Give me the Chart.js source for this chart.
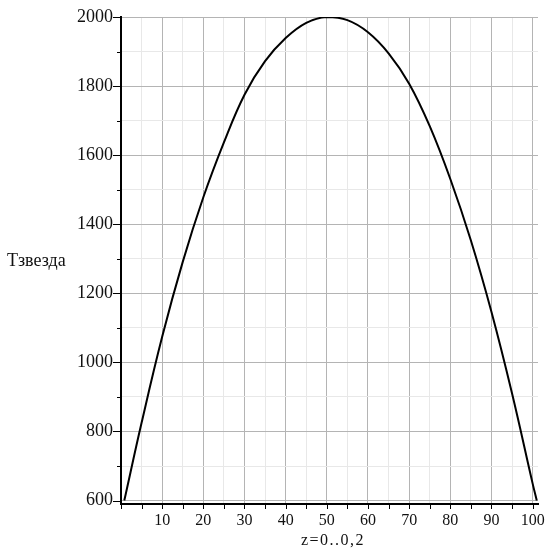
<!DOCTYPE html>
<html>
<head>
<meta charset="utf-8">
<script src="https://cdn.jsdelivr.net/npm/chart.js@4.4.1/dist/chart.umd.min.js"></script>
<style>
  body { margin: 0; background: #fff; }
  #wrap { width: 547px; height: 549px; }
</style>
</head>
<body>
<div id="wrap"><canvas id="plot" width="547" height="549"></canvas></div>
<script>
// values
const zValues = [0.8, 5, 10, 15, 20, 25, 30, 35, 40, 45, 50, 55, 60, 65, 70, 75, 80, 85, 90, 95, 100, 101];
const tempValues = [600, 825, 1074, 1291, 1478, 1637, 1775, 1872, 1939, 1983, 2000, 1991, 1956, 1895, 1807, 1684, 1531, 1353, 1146, 910, 649, 600];

const xTicks = [0, 5, 10, 15, 20, 25, 30, 35, 40, 45, 50, 55, 60, 65, 70, 75, 80, 85, 90, 95, 100];
const yTicks = [600, 700, 800, 900, 1000, 1100, 1200, 1300, 1400, 1500, 1600, 1700, 1800, 1900, 2000];

const xTitle = 'z=0..0,2';
const yTitle = 'Tзвезда';

const serif = "'Liberation Serif', 'Times New Roman', serif";
const majorGrid = '#b4b4b4';
const minorGrid = '#e8e8e8';

// tick marks + axis titles drawn by hand (major / minor lengths differ)
const axisDecor = {
    id: 'axisDecor',
    afterDraw(chart) {
        const ctx = chart.ctx;
        const xs = chart.scales.x, ys = chart.scales.y;
        const area = chart.chartArea;
        ctx.save();
        ctx.strokeStyle = '#000';
        ctx.lineWidth = 1;
        ys.ticks.forEach(t => {
            const py = Math.round(ys.getPixelForValue(t.value)) + 0.5;
            const len = t.value % 200 === 0 ? 8 : 4;
            ctx.beginPath();
            ctx.moveTo(area.left - len, py);
            ctx.lineTo(area.left, py);
            ctx.stroke();
        });
        xs.ticks.forEach(t => {
            const px = Math.round(xs.getPixelForValue(t.value)) + 0.5;
            ctx.beginPath();
            ctx.moveTo(px, area.bottom);
            ctx.lineTo(px, area.bottom + 5);
            ctx.stroke();
        });
        ctx.fillStyle = '#111';
        ctx.font = '18px ' + serif;
        ctx.textBaseline = 'alphabetic';
        ctx.textAlign = 'left';
        ctx.fillText(yTitle, 7, 266);
        ctx.font = '16px ' + serif;
        ctx.textAlign = 'center';
        ctx.letterSpacing = '1.5px';
        ctx.fillText(xTitle, 333, 545);
        ctx.restore();
    }
};

new Chart(document.getElementById('plot'), {
    type: 'line',
    data: {
        datasets: [{
            data: zValues.map((z, i) => ({ x: z, y: tempValues[i] })),
            borderColor: '#000',
            borderWidth: 2,
            pointRadius: 0,
            tension: 0.4,
            fill: false
        }]
    },
    options: {
        responsive: false,
        animation: false,
        layout: { padding: { left: 0, right: 9, top: 17, bottom: 0 } },
        plugins: {
            legend: { display: false },
            tooltip: { enabled: false }
        },
        scales: {
            x: {
                type: 'linear',
                min: 0,
                max: 101.3,
                afterBuildTicks: s => { s.ticks = xTicks.map(v => ({ value: v })); },
                afterFit: s => {
                    s.height = 45;
                    s.paddingLeft = 0;
                    s.paddingRight = 0;
                },
                ticks: {
                    autoSkip: false,
                    maxRotation: 0,
                    padding: 7,
                    color: '#111',
                    font: { family: serif, size: 16 },
                    callback: v => (v % 10 === 0 && v !== 0) ? v : ''
                },
                grid: {
                    drawTicks: false,
                    color: c => (c.tick && c.tick.value % 10 === 0) ? majorGrid : minorGrid
                },
                border: { color: '#000', width: 2 }
            },
            y: {
                min: 590,
                max: 2000,
                afterBuildTicks: s => { s.ticks = yTicks.map(v => ({ value: v })); },
                afterFit: s => {
                    s.width = 121;
                    s.paddingTop = 0;
                    s.paddingBottom = 0;
                },
                ticks: {
                    autoSkip: false,
                    padding: 8,
                    color: '#111',
                    font: { family: serif, size: 18 },
                    callback: v => v % 200 === 0 ? v : ''
                },
                grid: {
                    drawTicks: false,
                    color: c => (c.tick && c.tick.value % 200 === 0) ? majorGrid : minorGrid
                },
                border: { color: '#000', width: 2 }
            }
        }
    },
    plugins: [axisDecor]
});
</script>
</body>
</html>
